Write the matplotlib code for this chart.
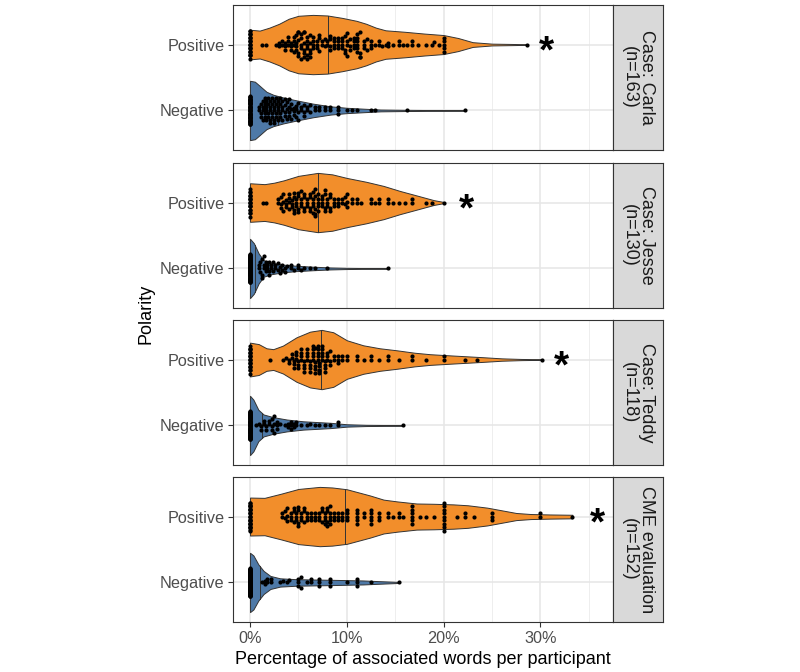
import numpy as np
import matplotlib
matplotlib.use('Agg')
import matplotlib.pyplot as plt

plt.rcParams['font.family'] = ['Liberation Sans', 'DejaVu Sans']

# facets and categories
strip_labels = ['Case: Carla\n(n=163)', 'Case: Jesse\n(n=130)',
                'Case: Teddy\n(n=118)', 'CME evaluation\n(n=152)']
polarity = ['Negative', 'Positive']
x_ticks = [0, 10, 20, 30]
x_ticklabels = ['0%', '10%', '20%', '30%']

# participant values (% of associated words) and how many participants share them
carla_pos_vals = [0, 1.2, 1.6, 2.7, 3.0, 3.3, 3.6, 3.9, 4.2, 4.5, 4.8, 5.0, 5.3, 5.6, 5.9, 6.2, 6.5, 6.9, 7.1, 7.4, 7.7,
                  8.0, 8.3, 8.7, 9.1, 9.5, 9.8, 10.0, 10.3, 10.7, 11.1, 11.4, 11.8, 12.1, 12.5, 12.9, 13.3, 13.6,
                  14.0, 14.3, 14.8, 15.4, 15.8, 16.2, 16.7, 17.4, 18.2, 18.8, 19.0, 19.5, 20.0, 28.6]
carla_pos_cnts = [24, 1, 1, 1, 2, 2, 3, 3, 3, 4, 4, 5, 5, 6, 6, 5, 4, 3, 3, 2, 2,
                  2, 4, 4, 4, 4, 3, 4, 3, 4, 6, 4, 3, 2, 3, 1, 2, 1,
                  1, 2, 1, 2, 1, 1, 2, 1, 1, 1, 1, 1, 5, 1]
carla_neg_vals = [0, 0.9, 1.1, 1.3, 1.5, 1.7, 1.9, 2.1, 2.3, 2.5, 2.7, 2.9, 3.1, 3.3, 3.6, 3.8, 4.0, 4.2, 4.5,
                  4.8, 5.0, 5.3, 5.6, 5.9, 6.2, 6.7, 7.1, 7.7, 8.3, 9.1, 10.0, 10.5, 11.1, 12.5, 12.9, 16.2, 22.2]
carla_neg_cnts = [62, 2, 3, 4, 4, 4, 4, 5, 4, 5, 4, 4, 4, 4, 4, 3, 4, 3, 3,
                  3, 3, 2, 3, 2, 2, 2, 2, 2, 2, 3, 1, 1, 1, 1, 1, 1, 1]
jesse_pos_vals = [0, 1.3, 1.7, 2.9, 3.2, 3.4, 3.7, 4.0, 4.3, 4.5, 4.8, 5.0, 5.3, 5.6, 5.9, 6.2, 6.5, 6.7, 7.0,
                  7.4, 7.7, 8.0, 8.3, 8.7, 9.1, 9.5, 9.8, 10.0, 10.5, 11.1, 11.5, 12.5, 12.9, 13.3, 14.3, 14.8,
                  15.4, 16.0, 16.7, 18.2, 18.8, 20.0]
jesse_pos_cnts = [20, 1, 1, 2, 3, 3, 3, 4, 3, 4, 3, 4, 4, 4, 3, 4, 5, 5, 5,
                  4, 4, 3, 4, 3, 3, 2, 2, 3, 2, 2, 1, 2, 1, 2, 2, 1,
                  1, 1, 2, 1, 1, 1]
jesse_neg_vals = [0, 0.9, 1.0, 1.2, 1.4, 1.6, 1.8, 2.0, 2.2, 2.4, 2.6, 2.9, 3.1, 3.3, 3.6, 3.8, 4.2, 4.5,
                  5.0, 5.3, 5.6, 6.2, 6.7, 8.0, 14.3]
jesse_neg_cnts = [85, 2, 2, 3, 3, 2, 2, 3, 2, 2, 2, 2, 2, 2, 2, 1, 2, 1,
                  2, 1, 1, 1, 1, 1, 1]
teddy_pos_vals = [0, 2.1, 3.4, 3.7, 4.0, 4.3, 4.5, 4.8, 5.0, 5.3, 5.6, 5.9, 6.2, 6.5, 6.7, 7.0, 7.1, 7.4, 7.7,
                  8.0, 8.3, 8.7, 9.1, 9.5, 10.0, 11.1, 11.8, 12.5, 13.3, 14.3, 15.4, 16.7, 18.2, 20.0, 22.2,
                  23.5, 30.2]
teddy_pos_cnts = [22, 1, 1, 1, 2, 2, 3, 3, 3, 4, 4, 4, 4, 5, 5, 5, 5, 5, 4,
                  3, 3, 2, 3, 2, 2, 2, 1, 2, 1, 2, 1, 2, 1, 2, 1,
                  1, 1]
teddy_neg_vals = [0, 0.6, 0.9, 1.1, 1.4, 1.7, 2.0, 2.3, 2.5, 2.8, 3.1, 3.6, 3.9, 4.2, 4.5, 4.8, 5.3, 5.9,
                  6.2, 6.7, 7.1, 7.7, 8.3, 9.1, 15.8]
teddy_neg_cnts = [78, 1, 1, 2, 2, 2, 2, 3, 3, 3, 1, 1, 2, 3, 2, 2, 1, 1,
                  1, 1, 1, 1, 1, 2, 1]
cme_pos_vals = [0, 3.3, 3.6, 3.8, 4.2, 4.5, 4.8, 5.0, 5.3, 5.6, 5.9, 6.3, 6.7, 7.1, 7.4, 7.7, 8.0, 8.3, 8.7,
                9.1, 9.5, 10.0, 11.1, 11.8, 12.5, 13.3, 14.3, 14.8, 15.4, 15.8, 16.7, 17.6, 18.2, 19.0, 20.0,
                21.4, 22.2, 23.1, 25.0, 30.0, 33.3]
cme_pos_cnts = [30, 2, 2, 3, 3, 3, 3, 4, 3, 3, 3, 3, 3, 3, 3, 4, 4, 5, 3,
                3, 3, 4, 5, 2, 5, 3, 2, 1, 2, 1, 6, 1, 1, 1, 9,
                1, 2, 1, 3, 2, 1]
cme_neg_vals = [0, 1.2, 1.5, 1.8, 2.2, 3.1, 3.4, 3.8, 4.0, 5.0, 5.3, 5.9, 6.3, 7.1, 8.3, 10.0, 11.1, 12.5, 15.4]
cme_neg_cnts = [121, 1, 2, 2, 2, 1, 1, 1, 1, 3, 2, 1, 2, 3, 3, 1, 3, 1, 1]

# violin outlines: position (%) and relative half-width
carla_pos_px = [0, 1, 2, 3, 4, 5, 6.5, 8, 9.5, 11, 12, 13, 14, 16, 18, 20, 21.5, 23, 25, 27, 28.6]
carla_pos_pw = [0.50, 0.47, 0.57, 0.70, 0.87, 0.97, 1.0, 0.98, 0.90, 0.80, 0.70, 0.57, 0.48, 0.43, 0.37,
                0.32, 0.22, 0.08, 0.03, 0.02, 0.01]
carla_neg_px = [0, 0.5, 1, 1.7, 2.4, 3.4, 4.8, 6.5, 8.3, 10, 11.7, 13.5, 16, 19, 22.2]
carla_neg_pw = [1.0, 0.97, 0.83, 0.63, 0.53, 0.44, 0.34, 0.23, 0.14, 0.09, 0.06, 0.03, 0.02, 0.013, 0.01]
jesse_pos_px = [0, 1.5, 2.5, 3.5, 5, 7, 8.5, 10, 12, 13.8, 15.5, 17.2, 19, 20]
jesse_pos_pw = [0.65, 0.62, 0.67, 0.75, 0.90, 1.0, 0.95, 0.83, 0.70, 0.56, 0.39, 0.24, 0.08, 0.02]
jesse_neg_px = [0, 0.4, 0.9, 1.4, 2.1, 3.4, 4.8, 6.5, 8.3, 10, 12, 14.3]
jesse_neg_pw = [1.0, 0.85, 0.5, 0.28, 0.2, 0.13, 0.09, 0.06, 0.033, 0.02, 0.013, 0.01]
teddy_pos_px = [0, 0.9, 1.7, 2.4, 3.4, 4.8, 6.2, 7.4, 8.6, 10, 11.7, 13.4, 15.2, 17, 18.6, 20.7, 24, 26, 28, 30.2]
teddy_pos_pw = [0.57, 0.52, 0.38, 0.35, 0.47, 0.75, 0.94, 1.0, 0.92, 0.65, 0.48, 0.38, 0.31, 0.23, 0.18,
                0.14, 0.08, 0.04, 0.02, 0.01]
teddy_neg_px = [0, 0.35, 0.86, 1.4, 2.4, 3.8, 5.5, 8.3, 10, 12, 15.8]
teddy_neg_pw = [1.0, 0.87, 0.53, 0.37, 0.28, 0.2, 0.14, 0.09, 0.04, 0.02, 0.01]
cme_pos_px = [0, 1.5, 3.2, 5, 7.2, 8.5, 10, 12.4, 13.8, 15.2, 17.2, 19, 21, 22.5, 24.5, 26, 27.5, 29, 31, 33.3]
cme_pos_pw = [0.64, 0.63, 0.77, 0.93, 1.0, 0.98, 0.92, 0.71, 0.57, 0.51, 0.44, 0.43, 0.41, 0.38, 0.30,
              0.21, 0.12, 0.085, 0.07, 0.06]
cme_neg_px = [0, 0.35, 0.86, 1.4, 2.1, 3.1, 4.8, 8.3, 11.7, 13.4, 15.4]
cme_neg_pw = [1.0, 0.91, 0.61, 0.39, 0.22, 0.14, 0.11, 0.09, 0.067, 0.043, 0.017]

# medians (%) [negative, positive] per facet, and where the significance star sits
medians = [[2.9, 8.1], [0.5, 7.0], [1.2, 7.35], [1.0, 9.8]]
star_x = [30.6, 22.4, 32.2, 35.9]

groups = [
    [(carla_neg_vals, carla_neg_cnts, carla_neg_px, carla_neg_pw), (carla_pos_vals, carla_pos_cnts, carla_pos_px, carla_pos_pw)],
    [(jesse_neg_vals, jesse_neg_cnts, jesse_neg_px, jesse_neg_pw), (jesse_pos_vals, jesse_pos_cnts, jesse_pos_px, jesse_pos_pw)],
    [(teddy_neg_vals, teddy_neg_cnts, teddy_neg_px, teddy_neg_pw), (teddy_pos_vals, teddy_pos_cnts, teddy_pos_px, teddy_pos_pw)],
    [(cme_neg_vals, cme_neg_cnts, cme_neg_px, cme_neg_pw), (cme_pos_vals, cme_pos_cnts, cme_pos_px, cme_pos_pw)],
]
colors = ['#4E79A7', '#F28E2B']


def swarm(xs, d):
    # simple beeswarm: place points by increasing x at the smallest free offset
    order = np.argsort(xs, kind='stable')
    px, py = [], []
    off = np.zeros(len(xs))
    for i in order:
        x = xs[i]
        y = 0.0
        if px:
            PX = np.array(px)
            PY = np.array(py)
            dx = np.abs(PX - x)
            near = dx < d
            nx, ny = dx[near], PY[near]
            if len(nx):
                h = np.sqrt(d * d - nx * nx)
                cands = np.concatenate([[0.0], ny + h, ny - h])
                cands = cands[np.argsort(np.abs(cands), kind='stable')]
                for c in cands:
                    if np.all(nx ** 2 + (ny - c) ** 2 >= d * d - 1e-6):
                        y = c
                        break
        px.append(x)
        py.append(y)
        off[i] = y
    return off


W, H = 800, 672
fig = plt.figure(figsize=(W / 100, H / 100), dpi=100)
tops = [5, 163, 320, 477]
ph = 145
xlim = (-1.76, 37.5)
ylim = (0.4, 2.6)
corral = 0.215

for k in range(4):
    ax = fig.add_axes([233 / W, 1 - (tops[k] + ph) / H, 380 / W, ph / H])
    ax.set_xlim(*xlim)
    ax.set_ylim(*ylim)
    ax.set_xticks(x_ticks)
    ax.set_xticks([5, 15, 25, 35], minor=True)
    ax.set_yticks([1, 2])
    ax.set_yticklabels(polarity)
    ax.set_axisbelow(True)
    ax.grid(which='major', color='#E6E6E6', lw=1.1)
    ax.grid(which='minor', axis='x', color='#EBEBEB', lw=0.6)
    for s in ax.spines.values():
        s.set_color('#333333')
        s.set_linewidth(0.8)
    ax.tick_params(axis='y', length=3.5, width=0.8, color='#333333', labelsize=11.7,
                   labelcolor='#4D4D4D', pad=2.5)
    ax.tick_params(axis='x', which='minor', length=0)
    if k == 3:
        ax.set_xticklabels(x_ticklabels)
        ax.tick_params(axis='x', length=3.5, width=0.8, color='#333333', labelsize=11.7,
                       labelcolor='#4D4D4D', pad=3)
    else:
        ax.tick_params(axis='x', length=0, labelbottom=False)

    # pixel scales for the swarm
    p0 = ax.transData.transform((0, 0))
    p1 = ax.transData.transform((1, 1))
    sx, sy = p1[0] - p0[0], p1[1] - p0[1]

    for j, (vals, cnts, prx, prw) in enumerate(groups[k]):
        y0 = j + 1
        w = np.array(prw) * 0.45
        ax.fill_between(prx, y0 - w, y0 + w, facecolor=colors[j], edgecolor='#333333',
                        lw=0.7, zorder=2)
        med = medians[k][j]
        wm = np.interp(med, prx, w)
        ax.plot([med, med], [y0 - wm, y0 + wm], color='#333333', lw=0.7, zorder=3)
        xs = np.repeat(np.array(vals, float), cnts)
        off = swarm(xs * sx, 3.5) / sy
        # points running past the corral wrap back inside it
        off = np.mod(off + corral, 2 * corral) - corral
        ax.scatter(xs, y0 + off, s=9, c='black', linewidths=0, zorder=4)

    ax.annotate('*', (star_x[k], 2), xytext=(0, -6), textcoords='offset points',
                ha='center', va='center', fontsize=28, fontweight='bold', zorder=5)

    st = fig.add_axes([613 / W, 1 - (tops[k] + ph) / H, 50 / W, ph / H])
    st.set_facecolor('#D9D9D9')
    st.set_xticks([])
    st.set_yticks([])
    for s in st.spines.values():
        s.set_color('#333333')
        s.set_linewidth(0.8)
    st.text(0.5, 0.5, strip_labels[k], rotation=-90, ha='center', va='center',
            fontsize=13, color='#1A1A1A', linespacing=0.95, transform=st.transAxes)

fig.text(146 / W, 1 - 313.5 / H, 'Polarity', rotation=90, ha='center', va='center', fontsize=13)
fig.text(423 / W, 1 - 660 / H, 'Percentage of associated words per participant',
         ha='center', va='center', fontsize=13)

fig.savefig('out.png', dpi=100)
